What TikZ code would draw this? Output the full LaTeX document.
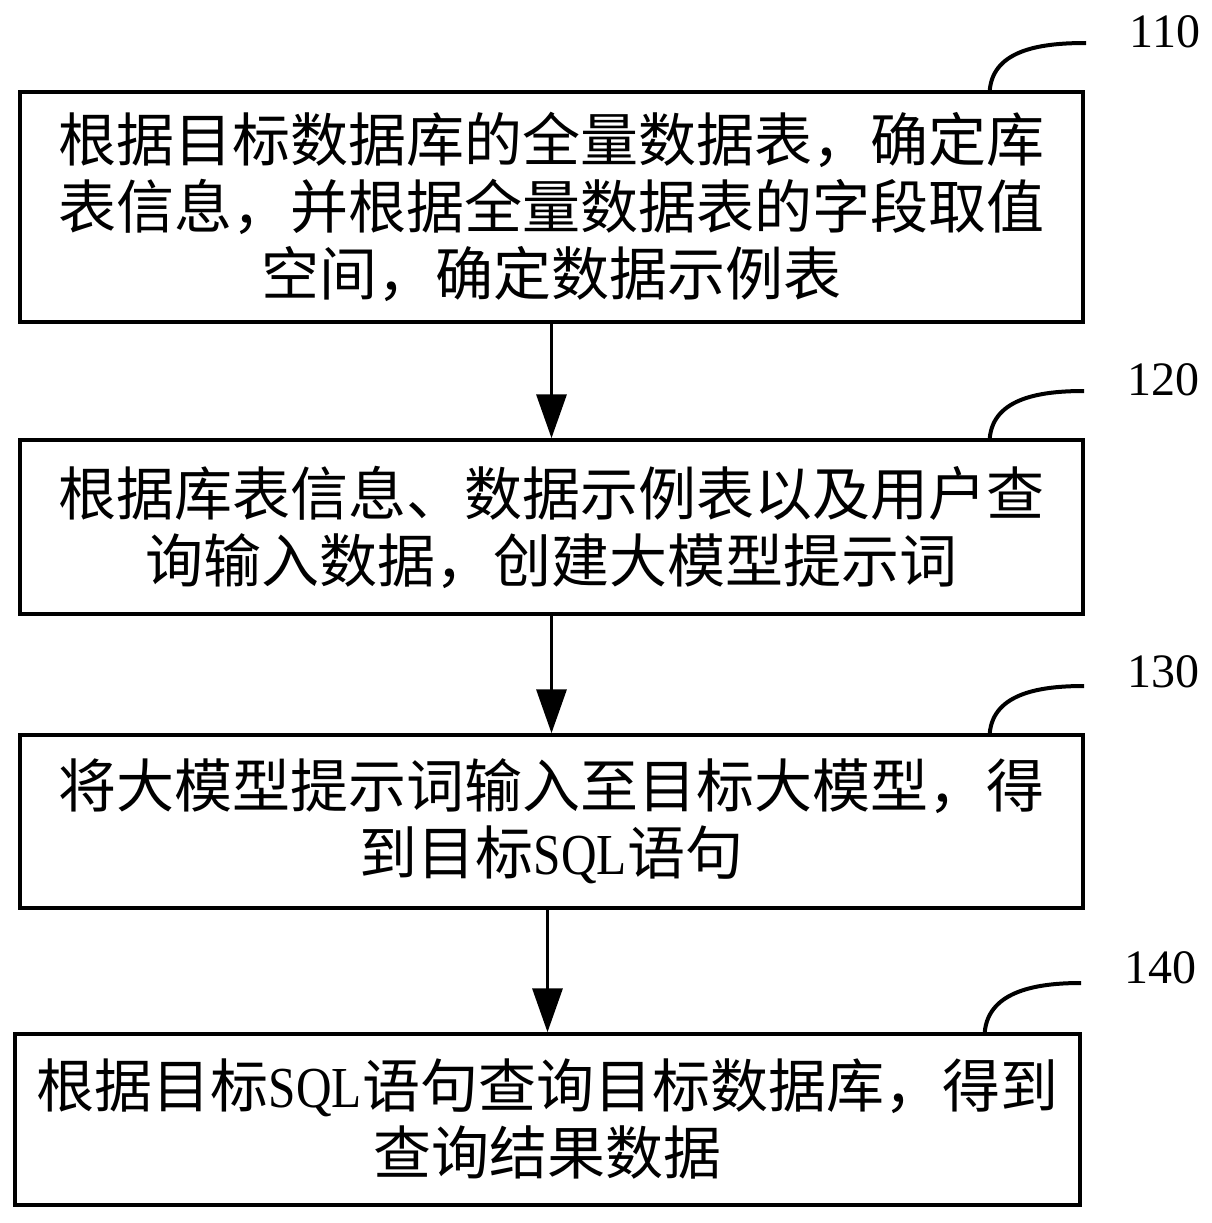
\documentclass[tikz,border=0pt]{standalone}
\usepackage{fontspec}
\setmainfont{Liberation Serif}
\newfontfamily\cjk{Noto Sans CJK SC}
\usetikzlibrary{arrows.meta}
\newcommand{\sqlword}{\scalebox{0.85}[1]{\rmfamily SQL}}
\tikzset{
	stepbox/.style={draw, line width=3.5pt, inner sep=0pt, align=center, minimum width=1063pt,
		font=\cjk\fontsize{58pt}{67pt}\selectfont},
	steplabel/.style={inner sep=0pt, font=\fontsize{48pt}{48pt}\selectfont},
	flow/.style={line width=3.5pt, -{Triangle[width=30pt,length=44pt]}},
	leader/.style={line width=4pt, out=85, in=180}
}

\begin{document}
\begin{tikzpicture}[x=1pt,y=-1pt]
			\useasboundingbox (0,0) rectangle (1211,1223);
			\node (s110) [stepbox, minimum height=230pt] at (551.5,207) {根据目标数据库的全量数据表，确定库\\表信息，并根据全量数据表的字段取值\\空间，确定数据示例表};
			\node (s120) [stepbox, minimum height=174pt] at (551.5,527) {根据库表信息、数据示例表以及用户查\\询输入数据，创建大模型提示词};
			\node (s130) [stepbox, minimum height=173pt] at (551.5,821.5) {将大模型提示词输入至目标大模型，得\\到目标\sqlword 语句};
			\node (s140) [stepbox, minimum height=171pt, minimum width=1065pt] at (547.5,1119.5) {根据目标\sqlword 语句查询目标数据库，得到\\查询结果数据};
			\node (n110) [steplabel] at (1165,32) {110};
			\node (n120) [steplabel] at (1163,380) {120};
			\node (n130) [steplabel] at (1163,672) {130};
			\node (n140) [steplabel] at (1160,968) {140};
			\coordinate (e110) at (1086,43);
			\coordinate (e120) at (1084,391);
			\coordinate (e130) at (1084,686);
			\coordinate (e140) at (1081,983);
			\draw [flow] (s110) -- (s120);
			\draw [flow] (s120) -- (s130);
			\draw [flow] (s140.north |- s130.south) -- (s140.north);
			\draw [leader] ([xshift=-95pt]s110.north east) to (e110);
			\draw [leader] ([xshift=-95pt]s120.north east) to (e120);
			\draw [leader] ([xshift=-95pt]s130.north east) to (e130);
			\draw [leader] ([xshift=-97pt]s140.north east) to (e140);
		\end{tikzpicture}
\end{document}
